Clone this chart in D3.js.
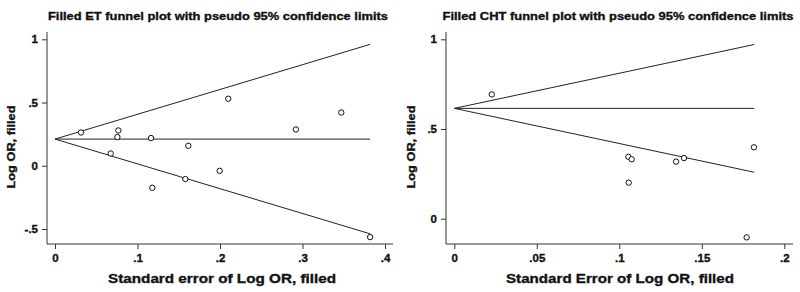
<!DOCTYPE html>
<html>
<head>
<meta charset="utf-8">
<script src="https://cdn.jsdelivr.net/npm/d3@7"></script>
<style>
  body { margin: 0; background: #fff; }
  svg { display: block; }
  text { font-family: "Liberation Sans", Arial, sans-serif; font-weight: bold; fill: #111; stroke: #111; stroke-width: 0.35px; }
</style>
</head>
<body>
<svg width="800" height="292"></svg>
<script>
// ET panel data (se, log OR)
var etSE  = [0.0315, 0.0768, 0.0756, 0.1164, 0.210, 0.292, 0.347, 0.1616, 0.0675, 0.158, 0.118, 0.1996, 0.382];
var etLOR = [0.263, 0.279, 0.227, 0.219, 0.530, 0.287, 0.421, 0.158, 0.097, -0.105, -0.174, -0.040, -0.564];
// funnel lines: [se, upper, centre, lower]
var etFunnelSE = [0, 0.382];
var etUpper  = [0.211, 0.96];
var etCentre = [0.211, 0.211];
var etLower  = [0.211, -0.538];
var etXTicks = [0, 0.1, 0.2, 0.3, 0.4];
var etXLabels = ["0", ".1", ".2", ".3", ".4"];
var etYTicks = [-0.5, 0, 0.5, 1];
var etYLabels = ["-.5", "0", ".5", "1"];

// CHT panel data
var chtSE  = [0.0227, 0.1816, 0.1055, 0.1075, 0.1057, 0.1344, 0.1392, 0.1772];
var chtLOR = [0.693, 0.398, 0.345, 0.331, 0.201, 0.318, 0.338, -0.104];
var chtFunnelSE = [0, 0.1818];
var chtUpper  = [0.615, 0.971];
var chtCentre = [0.615, 0.615];
var chtLower  = [0.615, 0.259];
var chtXTicks = [0, 0.05, 0.1, 0.15, 0.2];
var chtXLabels = ["0", ".05", ".1", ".15", ".2"];
var chtYTicks = [0, 0.5, 1];
var chtYLabels = ["0", ".5", "1"];

var svg = d3.select("svg");

function drawPanel(p) {
  var g = svg.append("g");
  var x = d3.scaleLinear().domain(p.xDomain).range(p.xRange);
  var y = d3.scaleLinear().domain(p.yDomain).range(p.yRange);

  // title
  g.append("text")
    .attr("x", p.titleX).attr("y", 20)
    .attr("text-anchor", "middle")
    .attr("textLength", p.titleLen).attr("lengthAdjust", "spacingAndGlyphs")
    .style("font-size", "11px")
    .text(p.title);

  // axes
  var yAxis = g.append("g")
    .attr("transform", "translate(" + p.axisX + ",0)")
    .call(d3.axisLeft(y).tickValues(p.yTicks).tickSize(5).tickPadding(4)
      .tickFormat(function (d, i) { return p.yLabels[i]; }));
  yAxis.select(".domain").remove();
  var xAxis = g.append("g")
    .attr("transform", "translate(0," + p.axisY + ")")
    .call(d3.axisBottom(x).tickValues(p.xTicks).tickSize(5).tickPadding(5)
      .tickFormat(function (d, i) { return p.xLabels[i]; }));
  xAxis.select(".domain").remove();
  g.selectAll(".tick line").attr("stroke", "#333");
  g.selectAll(".tick text").style("font-size", "11.5px").style("font-family", "'Liberation Sans', Arial, sans-serif")
    .style("font-weight", "bold").attr("fill", "#111");

  g.append("line").attr("x1", p.axisX).attr("x2", p.axisX).attr("y1", 32).attr("y2", p.axisY)
    .attr("stroke", "#333");
  g.append("line").attr("x1", p.axisX).attr("x2", p.axisEnd).attr("y1", p.axisY).attr("y2", p.axisY)
    .attr("stroke", "#333");

  // axis titles
  g.append("text")
    .attr("x", p.xTitleX).attr("y", 283)
    .attr("text-anchor", "middle")
    .attr("textLength", 228).attr("lengthAdjust", "spacingAndGlyphs")
    .style("font-size", "13.5px")
    .text(p.xTitle);
  g.append("text")
    .attr("transform", "translate(" + p.yTitleX + ",147) rotate(-90)")
    .attr("text-anchor", "middle")
    .attr("textLength", 83).attr("lengthAdjust", "spacingAndGlyphs")
    .style("font-size", "11px")
    .text("Log OR, filled");

  // funnel lines
  var line = d3.line().x(function (d) { return x(d[0]); }).y(function (d) { return y(d[1]); });
  [p.upper, p.centre, p.lower].forEach(function (vals) {
    g.append("path")
      .datum(p.funnelSE.map(function (s, i) { return [s, vals[i]]; }))
      .attr("d", line)
      .attr("fill", "none").attr("stroke", "#222").attr("stroke-width", 1);
  });

  // study points
  g.selectAll("circle.pt")
    .data(p.se.map(function (s, i) { return [s, p.lor[i]]; }))
    .join("circle")
      .attr("class", "pt")
      .attr("cx", function (d) { return x(d[0]); })
      .attr("cy", function (d) { return y(d[1]); })
      .attr("r", 2.7)
      .attr("fill", "#fff").attr("stroke", "#111").attr("stroke-width", 1);
}

drawPanel({
  title: "Filled ET funnel plot with pseudo 95% confidence limits", titleX: 218, titleLen: 340,
  xTitle: "Standard error of Log OR, filled", xTitleX: 222, yTitleX: 15,
  xDomain: [0, 0.4], xRange: [55, 385], yDomain: [-0.5, 1], yRange: [229, 39.3],
  axisX: 47, axisY: 244, axisEnd: 393,
  xTicks: etXTicks, xLabels: etXLabels, yTicks: etYTicks, yLabels: etYLabels,
  se: etSE, lor: etLOR, funnelSE: etFunnelSE, upper: etUpper, centre: etCentre, lower: etLower
});

drawPanel({
  title: "Filled CHT funnel plot with pseudo 95% confidence limits", titleX: 618, titleLen: 351,
  xTitle: "Standard Error of Log OR, filled", xTitleX: 620, yTitleX: 415,
  xDomain: [0, 0.2], xRange: [454.3, 784.3], yDomain: [0, 1], yRange: [218.7, 39.3],
  axisX: 446, axisY: 244, axisEnd: 793,
  xTicks: chtXTicks, xLabels: chtXLabels, yTicks: chtYTicks, yLabels: chtYLabels,
  se: chtSE, lor: chtLOR, funnelSE: chtFunnelSE, upper: chtUpper, centre: chtCentre, lower: chtLower
});
</script>
</body>
</html>
